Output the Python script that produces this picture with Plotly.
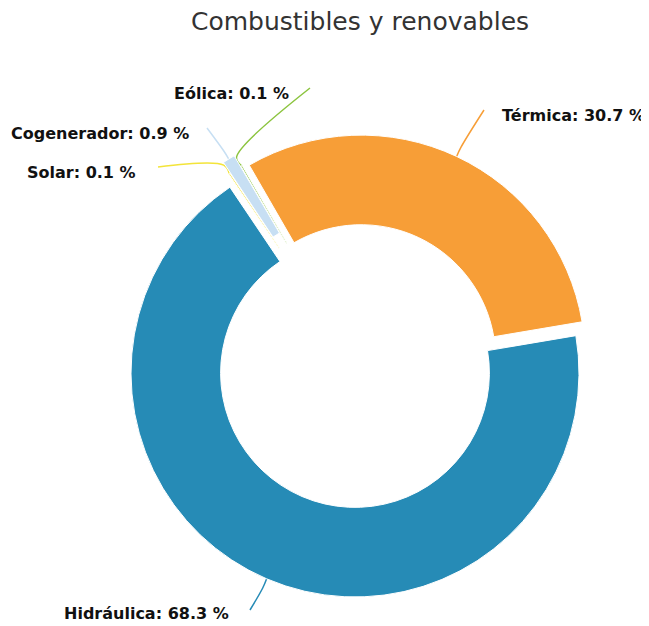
import math
import plotly.graph_objects as go

W, H = 649, 626
OFF = 8  # margen del <body> de la página
FONT_FAMILY = 'DejaVu Sans, Verdana, sans-serif'

# datos
categorias = ['Térmica', 'Hidráulica', 'Solar', 'Cogenerador', 'Eólica']
porcentajes = [30.7, 68.3, 0.1, 0.9, 0.1]
colores = ['#f79e37', '#268bb6', '#f3e43a', '#c7dff3', '#8cc43f']

# estilo / geometría (pixeles de pantalla)
CX, CY, R = 358, 366, 224
ROTACION = -30
HUECO = 0.6
PULL_PX = [7.6, 7.6, 7.6, 20, 7.6]
# extremo del conector junto a la etiqueta y anclaje del texto
fin_conector = [(484, 110), (250, 610), (158, 167), (207, 128), (310, 88)]
texto_pos = [(500, 115, 'left'), (231, 613, 'right'), (138, 172, 'right'),
             (191, 133, 'right'), (291, 93, 'right')]

pulls = [p / R for p in PULL_PX]
rr = R * (1 + max(pulls))
cx, cy = CX - OFF, CY - OFF
dom_x = [(cx - rr) / W, (cx + rr) / W]
dom_y = [1 - (cy + rr) / H, 1 - (cy - rr) / H]

fig = go.Figure()

fig.add_trace(go.Pie(
    labels=categorias,
    values=porcentajes,
    marker=dict(colors=colores, line=dict(color='white', width=1)),
    hole=HUECO,
    pull=pulls,
    sort=False,
    direction='clockwise',
    rotation=ROTACION,
    textinfo='none',
    hovertemplate='%{label}: %{value} %<extra></extra>',
    domain=dict(x=dom_x, y=dom_y),
    showlegend=False,
))

# conectores: desde el borde de cada porción (ángulo medio) hasta la etiqueta
total = sum(porcentajes)
ang = ROTACION
for i, v in enumerate(porcentajes):
    mid = math.radians(ang + 180 * v / total)
    ang += 360 * v / total
    ux, uy = math.sin(mid), -math.cos(mid)
    r0 = R + PULL_PX[i]
    x0, y0 = CX + r0 * ux, CY + r0 * uy
    x1, y1 = CX + (r0 + 10) * ux, CY + (r0 + 10) * uy
    x2, y2 = fin_conector[i]
    fig.add_trace(go.Scatter(
        x=[x0, x1, x2], y=[y0, y1, y2],
        mode='lines',
        line=dict(color=colores[i], width=1.5, shape='spline'),
        hoverinfo='skip',
        showlegend=False,
    ))
    tx, ty, al = texto_pos[i]
    fig.add_annotation(
        x=tx, y=ty, xref='x', yref='y',
        text=f'<b>{categorias[i]}: {v} %</b>',
        showarrow=False,
        xanchor=al, yanchor='middle',
        font=dict(family=FONT_FAMILY, size=16, color='#111111'),
    )

fig.update_layout(
    width=W, height=H,
    margin=dict(l=0, r=0, t=0, b=0),
    paper_bgcolor='white',
    plot_bgcolor='rgba(0,0,0,0)',
    title=dict(
        text='Combustibles y renovables',
        x=(360 - OFF) / W, xanchor='center',
        y=1 - (21 - OFF) / H, yanchor='middle', yref='container',
        font=dict(family=FONT_FAMILY, size=25, color='#333333'),
    ),
    xaxis=dict(range=[OFF, W + OFF], visible=False, fixedrange=True, domain=[0, 1]),
    yaxis=dict(range=[H + OFF, OFF], visible=False, fixedrange=True, domain=[0, 1]),
    font=dict(family=FONT_FAMILY),
)

fig.write_html('out.html')
